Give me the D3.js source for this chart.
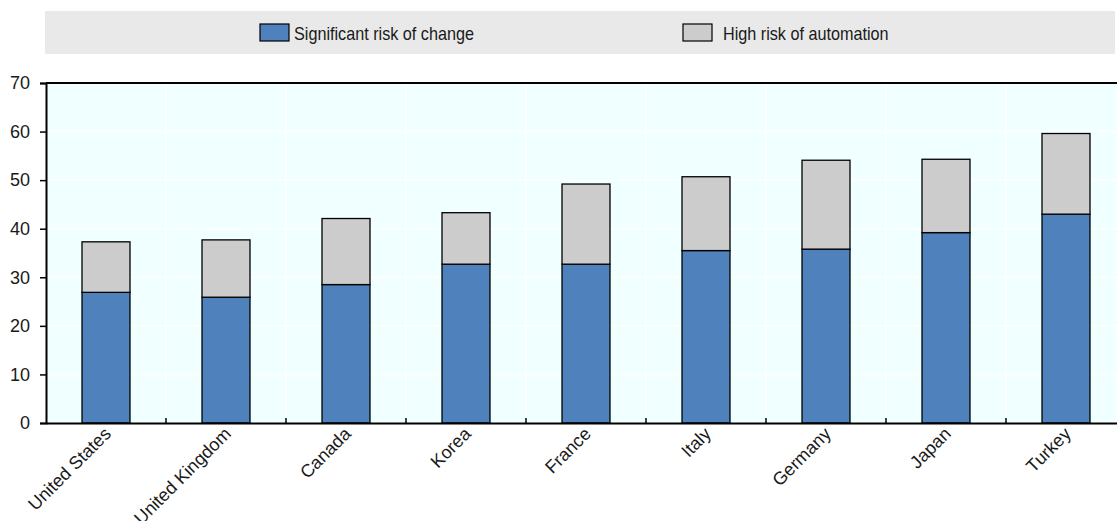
<!DOCTYPE html>
<html><head><meta charset="utf-8">
<script src="https://cdn.jsdelivr.net/npm/d3@7"></script>
<style>
html,body{margin:0;padding:0;background:#fff;overflow:hidden}
text{font-family:"Liberation Sans",Arial,sans-serif;fill:#1a1a1a}
</style></head>
<body>
<svg id="c" width="1117" height="521"></svg>
<script>
const categories = ["United States","United Kingdom","Canada","Korea","France","Italy","Germany","Japan","Turkey"];
const significantRisk = [26.9, 25.9, 28.5, 32.7, 32.7, 35.5, 35.8, 39.2, 43.0];
const highRisk = [10.4, 11.8, 13.6, 10.6, 16.5, 15.2, 18.3, 15.1, 16.6];
const yTicks = [0,10,20,30,40,50,60,70];
const seriesNames = ["Significant risk of change","High risk of automation"];
const colors = ["#4F81BD","#CCCCCC"];

const svg = d3.select("#c");
const L = 46, R = 1126, T = 83, B = 423;
const x = d3.scaleBand().domain(categories).range([L, R]).paddingInner(0.6).paddingOuter(0.3);
const y = d3.scaleLinear().domain([0,70]).range([B, T]);

// legend
svg.append("rect").attr("x",45).attr("y",11).attr("width",1070).attr("height",43).attr("fill","#E9E9E9");
const legX = [260, 683];
seriesNames.forEach((n,i)=>{
  svg.append("rect").attr("x",legX[i]).attr("y",24).attr("width",29).attr("height",17)
    .attr("fill",colors[i]).attr("stroke","#000").attr("stroke-width",1.2);
  svg.append("text").attr("transform",`translate(${legX[i]+(i===0?34:40)},39.5) scale(0.9,1)`)
    .attr("font-size",18).text(n);
});

// plot background
svg.append("rect").attr("x",L).attr("y",T).attr("width",R-L).attr("height",B-T).attr("fill","#F0FFFF");

// horizontal grid
svg.append("g").selectAll("line").data(yTicks.slice(1)).join("line")
  .attr("x1",L).attr("x2",R).attr("y1",d=>y(d)).attr("y2",d=>y(d))
  .attr("stroke","#fff").attr("stroke-width",1.5);
// vertical grid at band boundaries
const bounds = categories.slice(1).map(c=>x(c)-x.step()*x.paddingInner()/2);
svg.append("g").selectAll("line").data(bounds).join("line")
  .attr("x1",d=>d).attr("x2",d=>d).attr("y1",T).attr("y2",B)
  .attr("stroke","#fff").attr("stroke-width",1.5);

// bars
const stackData = categories.map((c,i)=>({cat:c, s:significantRisk[i], h:highRisk[i]}));
const stack = d3.stack().keys(["s","h"])(stackData);
svg.append("g").selectAll("g").data(stack).join("g")
  .attr("fill",(d,i)=>colors[i])
  .selectAll("rect").data(d=>d).join("rect")
  .attr("x",d=>x(d.data.cat)).attr("width",x.bandwidth())
  .attr("y",d=>y(d[1])).attr("height",d=>y(d[0])-y(d[1]))
  .attr("stroke","#000").attr("stroke-width",1.3);

// top border
svg.append("line").attr("x1",L).attr("x2",R).attr("y1",T).attr("y2",T).attr("stroke","#000").attr("stroke-width",2);

// y axis
const ya = svg.append("g").attr("transform",`translate(${L},0)`)
  .call(d3.axisLeft(y).tickValues(yTicks).tickSize(6).tickPadding(10));
ya.attr("font-family",null);
ya.select(".domain").attr("stroke","#000").attr("stroke-width",2);
ya.selectAll(".tick line").attr("stroke","#000").attr("stroke-width",1.5);
ya.selectAll("text").attr("font-size",18).attr("fill","#1a1a1a");

// x axis
const xa = svg.append("g").attr("transform",`translate(0,${B})`)
  .call(d3.axisBottom(x).tickSize(0).tickPadding(0).tickSizeOuter(0));
xa.attr("font-family",null);
xa.select(".domain").attr("stroke","#000").attr("stroke-width",2);
xa.selectAll(".tick text").attr("font-size",18).attr("fill","#1a1a1a")
  .attr("text-anchor","end").attr("dy",null).attr("y",0)
  .attr("transform","translate(6,12) rotate(-45)");
// small ticks at band boundaries pointing up
svg.append("g").selectAll("line").data(bounds).join("line")
  .attr("x1",d=>d).attr("x2",d=>d).attr("y1",B).attr("y2",B-5)
  .attr("stroke","#000").attr("stroke-width",1.5);
</script>
</body></html>
